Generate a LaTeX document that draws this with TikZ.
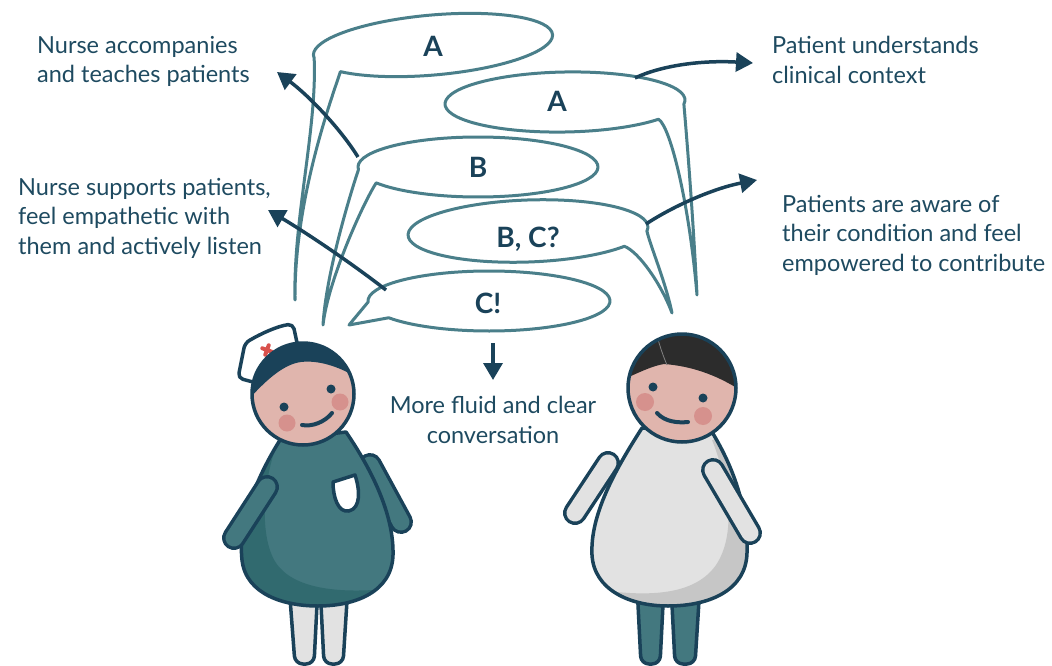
\documentclass[tikz,border=0pt]{standalone}
\usepackage{fontspec}
\setmainfont{Lato}
\usetikzlibrary{arrows.meta}

\definecolor{navy}{HTML}{1A4259}
\definecolor{inkblue}{HTML}{1E4A60}
\definecolor{bubbleline}{HTML}{4A7F8A}
\definecolor{scrubs}{HTML}{43787F}
\definecolor{scrubsdark}{HTML}{316A6F}
\definecolor{skin}{HTML}{E0B5AD}
\definecolor{blush}{HTML}{D6918D}
\definecolor{gown}{HTML}{E2E2E2}
\definecolor{gowndark}{HTML}{C6C6C6}
\definecolor{hairdark}{HTML}{2C2C2C}
\definecolor{crossred}{HTML}{D9514C}

\tikzset{
  bubble/.style={draw=bubbleline, fill=white, line width=3pt, line join=round},
  letter/.style={text=navy, font=\bfseries\fontsize{28}{30}\selectfont, inner sep=0pt, anchor=base},
  caption/.style={text=inkblue, font=\fontsize{23.5}{29.5}\selectfont, inner sep=0pt},
  pointer/.style={draw=navy, line width=3.5pt, -{Triangle[length=17pt,width=19pt]}},
  outline/.style={draw=navy, line width=3.5pt, line join=round},
  limb/.style={draw=navy, line width=3.5pt, double distance=17pt, line cap=round},
}

\begin{document}
\begin{tikzpicture}[x=1pt, y=-1pt]
    \path[use as bounding box] (0,0) rectangle (1052,666);

    % tips of the bubble tails
    \coordinate (tipA1) at (295,300);
    \coordinate (tipA2) at (697,295);
    \coordinate (tipB) at (323,325);
    \coordinate (tipBC) at (672,313);
    \coordinate (tipC) at (349,325);

    % speech bubbles, back to front
    \begin{scope}[shift={(433,45)}, rotate=5]
        \draw[bubble] (175:120 and 30) arc[start angle=175, end angle=502, x radius=120, y radius=30]
            .. controls +(-12,28) and +(8,-100) .. (tipA1)
            .. controls +(5,-80) and +(-3,70) .. (175:120 and 30) -- cycle;
    \end{scope}
    \node[letter] (letA1) at (433,57) {A};

    \begin{scope}[shift={(565,102)}, rotate=1]
        \draw[bubble] (8:120 and 30) arc[start angle=8, end angle=-321, x radius=120, y radius=30]
            .. controls +(12,8) and +(-6,-90) .. (tipA2)
            .. controls +(-3,-90) and +(2,30) .. (8:120 and 30) -- cycle;
    \end{scope}
    \node[letter] (letA2) at (557,112) {A};

    \begin{scope}[shift={(478,167)}]
        \draw[bubble] (175:120 and 30) arc[start angle=175, end angle=508, x radius=120, y radius=30]
            .. controls +(-12,18) and +(5,-45) .. (tipB)
            .. controls +(3,-50) and +(-10,30) .. (175:120 and 30) -- cycle;
    \end{scope}
    \node[letter] (letB) at (478,177) {B};

    \begin{scope}[shift={(528,231)}, rotate=2]
        \draw[bubble] (8:120 and 31) arc[start angle=8, end angle=-323, x radius=120, y radius=31]
            .. controls +(14,6) and +(-10,-30) .. (tipBC)
            .. controls +(-5,-30) and +(3,15) .. (8:120 and 31) -- cycle;
    \end{scope}
    \node[letter] (letBC) at (528,247) {B, C?};

    \begin{scope}[shift={(489,301)}]
        \draw[bubble] (178:121 and 30) arc[start angle=178, end angle=506, x radius=121, y radius=30]
            -- (tipC) -- cycle;
    \end{scope}
    \node[letter] (letC) at (488,313) {C!};

    % captions
    \node[caption, anchor=north west, align=left] (accompany) at (37,36) {Nurse accompanies\\and teaches patients};
    \node[caption, anchor=north west, align=left] (supports) at (18,178) {Nurse supports patients,\\feel empathetic with\\them and actively listen};
    \node[caption, anchor=north west, align=left] (context) at (772,36) {Patient understands\\clinical context};
    \node[caption, anchor=north west, align=left] (aware) at (782,195) {Patients are aware of\\their condition and feel\\empowered to contribute};
    \node[caption, anchor=north, align=center] (fluid) at (493,396) {More fluid and clear\\conversation};

    % arrows from the bubbles
    \coordinate (fromB) at (358,157);
    \coordinate (toAccompany) at (277,72);
    \coordinate (fromC) at (386,290);
    \coordinate (toSupports) at (268,210);
    \coordinate (fromA2) at (635,78);
    \coordinate (toContext) at (753,63);
    \coordinate (fromBC) at (646,224);
    \coordinate (toAware) at (757,180);
    \coordinate (belowC) at (493,343);
    \coordinate (toFluid) at (493,380);

    \draw[pointer] (fromB) .. controls (340,128) and (308,95) .. (toAccompany);
    \draw[pointer] (fromC) .. controls (350,262) and (305,232) .. (toSupports);
    \draw[pointer] (fromA2) .. controls (660,66) and (700,60) .. (toContext);
    \draw[pointer] (fromBC) .. controls (675,205) and (715,188) .. (toAware);
    \draw[pointer] (belowC) -- (toFluid);

    % nurse
    \draw[limb, double=scrubs] (370,465) -- (401,522);
    \draw[outline, fill=gown, rounded corners=8pt] (289,585) -- (295,664) -- (314,664) -- (318,585) -- cycle;
    \draw[outline, fill=gown, rounded corners=8pt] (320,585) -- (324,664) -- (343,664) -- (348,585) -- cycle;
    \begin{scope}
        \clip (280,440) .. controls (255,480) and (238,525) .. (242,560) .. controls (246,595) and (285,606) .. (318,606) .. controls (355,606) and (392,592) .. (393,555) .. controls (394,515) and (372,470) .. (346,432) -- cycle;
        \fill[scrubs] (220,420) rectangle (410,620);
        \fill[scrubsdark] (278,442) .. controls (262,480) and (258,545) .. (280,568) .. controls (300,590) and (345,594) .. (395,588) -- (395,620) -- (225,620) -- (225,442) -- cycle;
    \end{scope}
    \draw[outline] (280,440) .. controls (255,480) and (238,525) .. (242,560) .. controls (246,595) and (285,606) .. (318,606) .. controls (355,606) and (392,592) .. (393,555) .. controls (394,515) and (372,470) .. (346,432) -- cycle;
    \draw[outline, fill=white] (333,482) -- (355,475) .. controls (360,490) and (361,508) .. (349,511) .. controls (338,513) and (333,497) .. cycle;
    \draw[limb, double=scrubs] (267,487) -- (234,538);

    % nurse cap and head
    \draw[outline, fill=white, rounded corners=5pt] (238,378) -- (245,343) .. controls (262,333) and (278,326) .. (293,324) -- (299,352) -- (268,386) -- cycle;
    \begin{scope}[shift={(267,350)}, rotate=-20]
        \draw[crossred, line width=4pt, line cap=round] (-5,0) -- (5,0) (0,-5) -- (0,5);
    \end{scope}
    \fill[skin] (303,394) circle[radius=51];
    \begin{scope}
        \clip (303,394) circle[radius=51];
        \fill[navy] (250,398) .. controls (268,378) and (285,364) .. (301,362) .. controls (318,360) and (338,366) .. (358,378) -- (358,335) -- (250,335) -- cycle;
    \end{scope}
    \draw[outline] (303,394) circle[radius=51];
    \fill[blush] (287,423) circle[radius=8.5] (340,402) circle[radius=8.5];
    \fill[navy] (284,407) circle[radius=4.5] (331,389) circle[radius=4.5];
    \draw[navy, line width=4pt, line cap=round] (302,425) .. controls (312,427) and (325,422) .. (332,413);

    % patient
    \draw[limb, double=gown] (608,463) -- (575,513);
    \draw[outline, fill=scrubs, rounded corners=8pt] (637,585) -- (641,664) -- (660,664) -- (664,585) -- cycle;
    \draw[outline, fill=scrubs, rounded corners=8pt] (671,585) -- (675,664) -- (695,664) -- (700,585) -- cycle;
    \begin{scope}
        \clip (642,428) .. controls (615,470) and (590,515) .. (592,555) .. controls (594,590) and (630,606) .. (668,606) .. controls (710,606) and (746,590) .. (747,553) .. controls (748,510) and (735,470) .. (712,432) -- cycle;
        \fill[gown] (580,420) rectangle (760,620);
        \fill[gowndark] (712,440) .. controls (730,485) and (736,535) .. (716,565) .. controls (695,595) and (650,597) .. (600,590) -- (600,620) -- (760,620) -- (760,430) -- cycle;
    \end{scope}
    \draw[outline] (642,428) .. controls (615,470) and (590,515) .. (592,555) .. controls (594,590) and (630,606) .. (668,606) .. controls (710,606) and (746,590) .. (747,553) .. controls (748,510) and (735,470) .. (712,432) -- cycle;
    \draw[limb, double=gown] (713,470) -- (750,533);

    % patient head
    \fill[skin] (682,388) circle[radius=54];
    \begin{scope}
        \clip (682,388) circle[radius=54];
        \fill[hairdark] (622,380) .. controls (640,372) and (652,366) .. (664,364) .. controls (690,366) and (715,374) .. (740,390) -- (740,330) -- (622,330) -- cycle;
        \draw[gray, line width=0.8pt] (657,336) .. controls (661,350) and (664,358) .. (667,365);
    \end{scope}
    \draw[outline] (682,388) circle[radius=54];
    \fill[blush] (645,402) circle[radius=9] (703,416) circle[radius=9];
    \fill[navy] (653,387) circle[radius=4.5] (703,398) circle[radius=4.5];
    \draw[navy, line width=4pt, line cap=round] (657,413) .. controls (665,422) and (678,423) .. (688,422);
\end{tikzpicture}
\end{document}
